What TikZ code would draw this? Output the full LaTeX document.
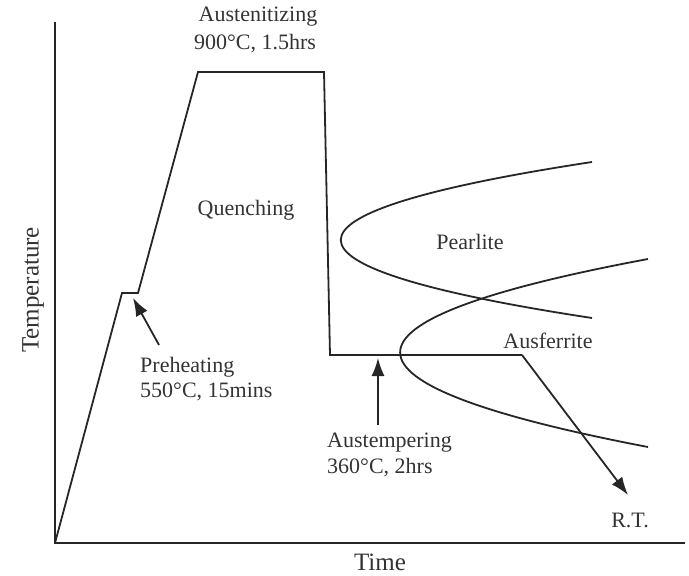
\documentclass[tikz,border=0pt]{standalone}
\usepackage{fontspec}
\setmainfont{Liberation Serif}
\usepackage{tikz}
\usetikzlibrary{arrows.meta}

\tikzset{
    lbl/.style={font=\fontsize{22}{25}\selectfont, text=black!80, inner sep=0pt},
    axlbl/.style={font=\fontsize{25}{28}\selectfont, text=black!80, inner sep=0pt},
    curve/.style={line width=1.8pt, black!85},
    pointer/.style={line width=1.8pt, black!85, -{Latex[length=18pt,width=13pt]}}
}

\begin{document}
\begin{tikzpicture}[x=1pt,y=-1pt]
        \useasboundingbox (0,0) rectangle (689,576);
        \coordinate (Top) at (55,22);
        \coordinate (Origin) at (55,543);
        \coordinate (End) at (685,543);
        \coordinate (PreA) at (122,293);
        \coordinate (PreB) at (138,293);
        \coordinate (AusA) at (198,72);
        \coordinate (AusB) at (324,72);
        \coordinate (TempA) at (330,355);
        \coordinate (TempB) at (522,355);
        \coordinate (RT) at (628,495);
        \draw [curve] (Top) -- (Origin) -- (End);
        \draw [curve,line join=miter] (Origin) -- (PreA) -- (PreB) -- (AusA) -- (AusB) -- (TempA) -- (TempB);
        \draw [pointer] (TempB) -- (RT);
        \draw [curve] (592,162) .. controls (257,213) and (257,267) .. (592,318);
        \draw [curve] (648,259) .. controls (316,321) and (319,384) .. (648,447);
        \node [axlbl,rotate=90] (Temperature) at (33,290) {Temperature};
        \node [axlbl] (Time) at (380,562) {Time};
        \node [lbl] (Austenitizing) at (258,17) {Austenitizing};
        \node [lbl] (AusT) at (255,44) {900°C, 1.5hrs};
        \node [lbl] (Quenching) at (246,210) {Quenching};
        \node [lbl] (Pearlite) at (470,242) {Pearlite};
        \node [lbl] (Ausferrite) at (548,341) {Ausferrite};
        \node [lbl,anchor=west] (Preheating) at (140,367) {Preheating};
        \node [lbl,anchor=west] (PreT) at (140,392) {550°C, 15mins};
        \node [lbl,anchor=west] (Austempering) at (327,443) {Austempering};
        \node [lbl,anchor=west] (TempT) at (327,468) {360°C, 2hrs};
        \node [lbl] (RTlabel) at (630,520) {R.T.};
        \coordinate (PreTail) at (159,345);
        \coordinate (PreTip) at (133,298);
        \coordinate (TempTail) at (378,425);
        \coordinate (TempTip) at (378,358);
        \draw [pointer] (PreTail) -- (PreTip);
        \draw [pointer] (TempTail) -- (TempTip);
    \end{tikzpicture}
\end{document}
